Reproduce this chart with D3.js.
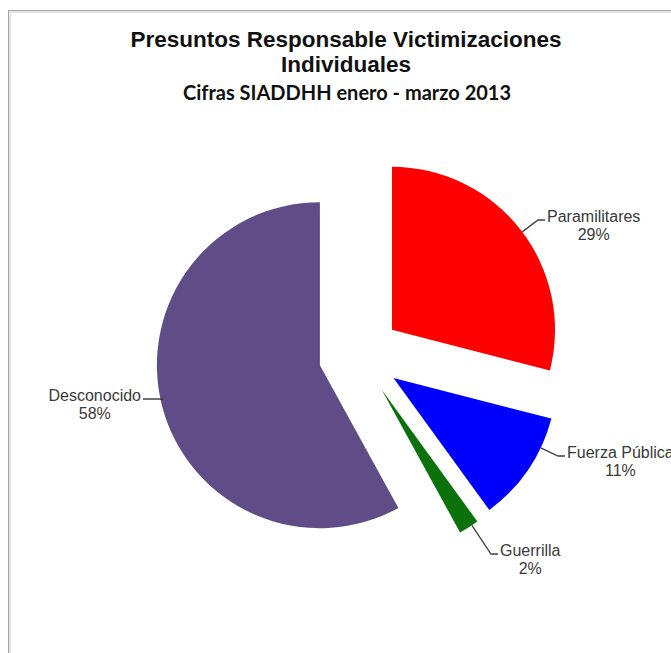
<!DOCTYPE html>
<html>
<head>
<meta charset="utf-8">
<script src="https://cdn.jsdelivr.net/npm/d3@7"></script>
<style>
    body { margin: 0; background: #fff; }
    text { font-family: "Liberation Sans", Arial, sans-serif; }
</style>
</head>
<body>
<div class="chart"></div>
<script>
// data (percent of individual victimizations)
const categories = ["Paramilitares", "Fuerza Pública", "Guerrilla", "Desconocido"];
const values = [29, 11, 2, 58];
const percentLabels = ["29%", "11%", "2%", "58%"];
const titleLines = ["Presuntos Responsable Victimizaciones", "Individuales"];
const subtitle = "Cifras SIADDHH enero - marzo 2013";

const colors = ["#ff0000", "#0000ff", "#0b710b", "#604c86"];

const width = 671, height = 653;
const cx = 359.6, cy = 355, radius = 163, explode = 41;

// label boxes: first line baseline, anchored on the side facing the pie
const labelLayout = {
    "Paramilitares": { x: 547, y: 222, side: "left" },
    "Fuerza Pública": { x: 567, y: 458, side: "left" },
    "Guerrilla": { x: 500, y: 556, side: "left" },
    "Desconocido": { x: 141, y: 401, side: "right" }
};

let svg = d3.select(".chart").append("svg")
    .attr("width", width)
    .attr("height", height);

// chart frame (runs off the right/bottom of the picture)
svg.append("rect")
    .attr("x", 9.5).attr("y", 11.5)
    .attr("width", 700).attr("height", 700)
    .attr("fill", "none")
    .attr("stroke", "#e4e4e4")
    .attr("stroke-width", 3);
svg.append("rect")
    .attr("x", 8.5).attr("y", 10.5)
    .attr("width", 700).attr("height", 700)
    .attr("fill", "none")
    .attr("stroke", "#a6a6a6");

// titles
svg.selectAll(".title")
    .data(titleLines)
    .join("text")
    .attr("class", "title")
    .attr("x", 346)
    .attr("y", (d, i) => 46.5 + i * 25.5)
    .attr("text-anchor", "middle")
    .attr("font-size", 22.5)
    .attr("font-weight", "bold")
    .attr("fill", "#111")
    .text(d => d);

svg.append("text")
    .attr("x", 347)
    .attr("y", 100)
    .attr("text-anchor", "middle")
    .style("font-family", "Lato, 'Open Sans', sans-serif")
    .attr("font-size", 20)
    .attr("font-weight", "bold")
    .attr("fill", "#111")
    .text(subtitle);

// pie, starting at 12 o'clock, clockwise, no sorting
let pie = d3.pie().sort(null).value(d => d.value);
let arc = d3.arc().innerRadius(0).outerRadius(radius);

let data = categories.map((c, i) => ({ name: c, value: values[i], pct: percentLabels[i], color: colors[i] }));
let arcs = pie(data);

// every slice pushed out along its bisector
arcs.forEach(a => {
    let mid = (a.startAngle + a.endAngle) / 2;
    a.ox = cx + explode * Math.sin(mid);
    a.oy = cy - explode * Math.cos(mid);
});

svg.selectAll(".slice")
    .data(arcs)
    .join("path")
    .attr("class", "slice")
    .attr("transform", d => `translate(${d.ox},${d.oy})`)
    .attr("fill", d => d.data.color)
    .attr("d", arc);

// leader lines: from nearest point on the slice rim to the label
arcs.forEach(a => {
    let lab = labelLayout[a.data.name];
    let endX = lab.side === "left" ? lab.x - 2 : lab.x + 2;
    let endY = lab.y - 2;
    let elbowX = lab.side === "left" ? endX - 7 : endX + 20;
    let ang = Math.atan2(elbowX - a.ox, -(endY - a.oy));
    if (ang < 0) ang += 2 * Math.PI;
    ang = Math.max(a.startAngle + 0.02, Math.min(a.endAngle - 0.02, ang));
    let sx = a.ox + radius * Math.sin(ang);
    let sy = a.oy - radius * Math.cos(ang);

    svg.append("polyline")
        .attr("points", `${sx},${sy} ${elbowX},${endY} ${endX},${endY}`)
        .attr("fill", "none")
        .attr("stroke", "#404040")
        .attr("stroke-width", 1.3);

    let t = svg.append("text")
        .attr("font-size", 16)
        .attr("fill", "#3a3a3a")
        .attr("text-anchor", lab.side === "left" ? "start" : "end")
        .attr("x", lab.x)
        .attr("y", lab.y)
        .text(a.data.name);

    // percent line centred under the name
    let w = t.node().getComputedTextLength();
    let centre = lab.side === "left" ? lab.x + w / 2 : lab.x - w / 2;
    svg.append("text")
        .attr("font-size", 16)
        .attr("fill", "#3a3a3a")
        .attr("text-anchor", "middle")
        .attr("x", centre)
        .attr("y", lab.y + 18)
        .text(a.data.pct);
});
</script>
</body>
</html>
